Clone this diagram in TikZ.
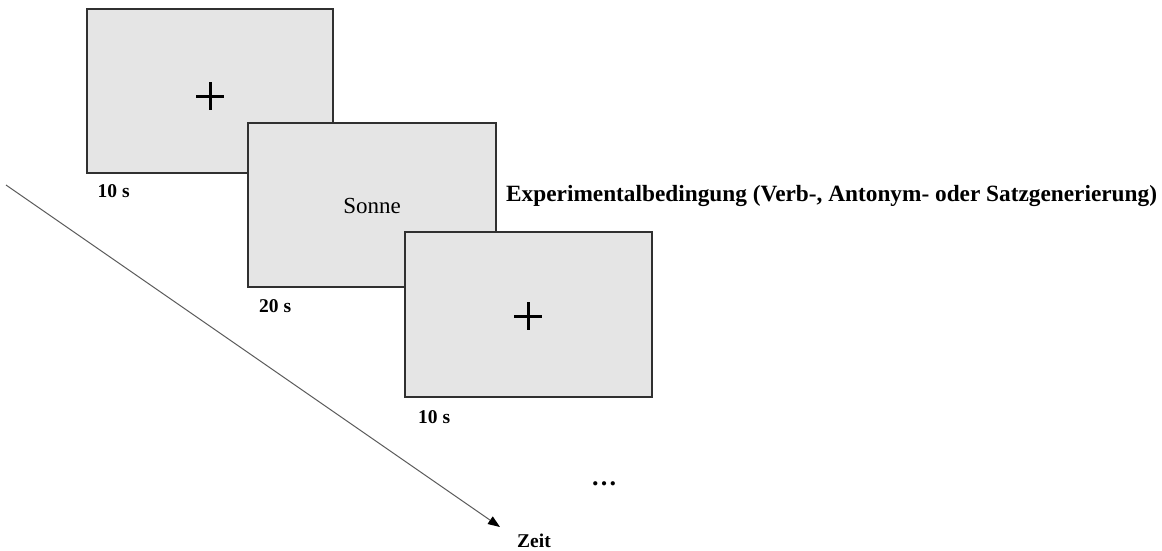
\documentclass[tikz,border=0pt]{standalone}
\usepackage{fontspec}
\setmainfont{Liberation Serif}
\usetikzlibrary{arrows.meta}
\definecolor{boxfill}{HTML}{E5E5E5}
\definecolor{boxline}{HTML}{303030}
\definecolor{timeline}{HTML}{5A5A5A}
\tikzset{
  screen/.style={draw=boxline, line width=1.5pt, fill=boxfill, minimum width=#1, inner sep=0pt},
  screen/.default=246pt,
  durlabel/.style={anchor=base west, inner sep=0pt, font=\fontsize{19.5}{20}\selectfont\bfseries},
  fixcross/.style={line width=3pt, black},
  timearrow/.style={draw=timeline, line width=1pt, -{Triangle[length=12pt,width=9pt,fill=black,color=black]}},
}
\begin{document}
\begin{tikzpicture}[x=1pt,y=-1pt]
\useasboundingbox (0,0) rectangle (1162,550);
% screens
\node[screen=246pt, minimum height=164pt] (b1) at (210,91) {};
\node[durlabel] (l1) at (97.5,197) {10 s};
\draw[fixcross] (196,96) -- (224,96) (210,82) -- (210,110);

\node[screen=248pt, minimum height=164pt] (b2) at (372,205) {};
\node[anchor=base, inner sep=0pt, font=\fontsize{23}{24}\selectfont] (w) at (372,213) {Sonne};
\node[durlabel] (l2) at (259,312) {20 s};

\node[screen=247pt, minimum height=165pt] (b3) at (528.5,314.5) {};
\draw[fixcross] (514,316) -- (542,316) (528,302) -- (528,330);
\node[durlabel] (l3) at (418,423) {10 s};

\node[anchor=base west, inner sep=0pt, font=\fontsize{23.3}{24}\selectfont\bfseries] (cond) at (506,201) {Experimentalbedingung (Verb-, Antonym- oder Satzgenerierung)};

\node[anchor=base, inner sep=0pt, font=\fontsize{26}{26}\selectfont\bfseries] (dots) at (604,485) {…};

% time axis
\coordinate (ts) at (6,185);
\coordinate (te) at (500,527);
\draw[timearrow] (ts) -- (te);
\node[durlabel] (zeit) at (517,547) {Zeit};
\end{tikzpicture}
\end{document}
